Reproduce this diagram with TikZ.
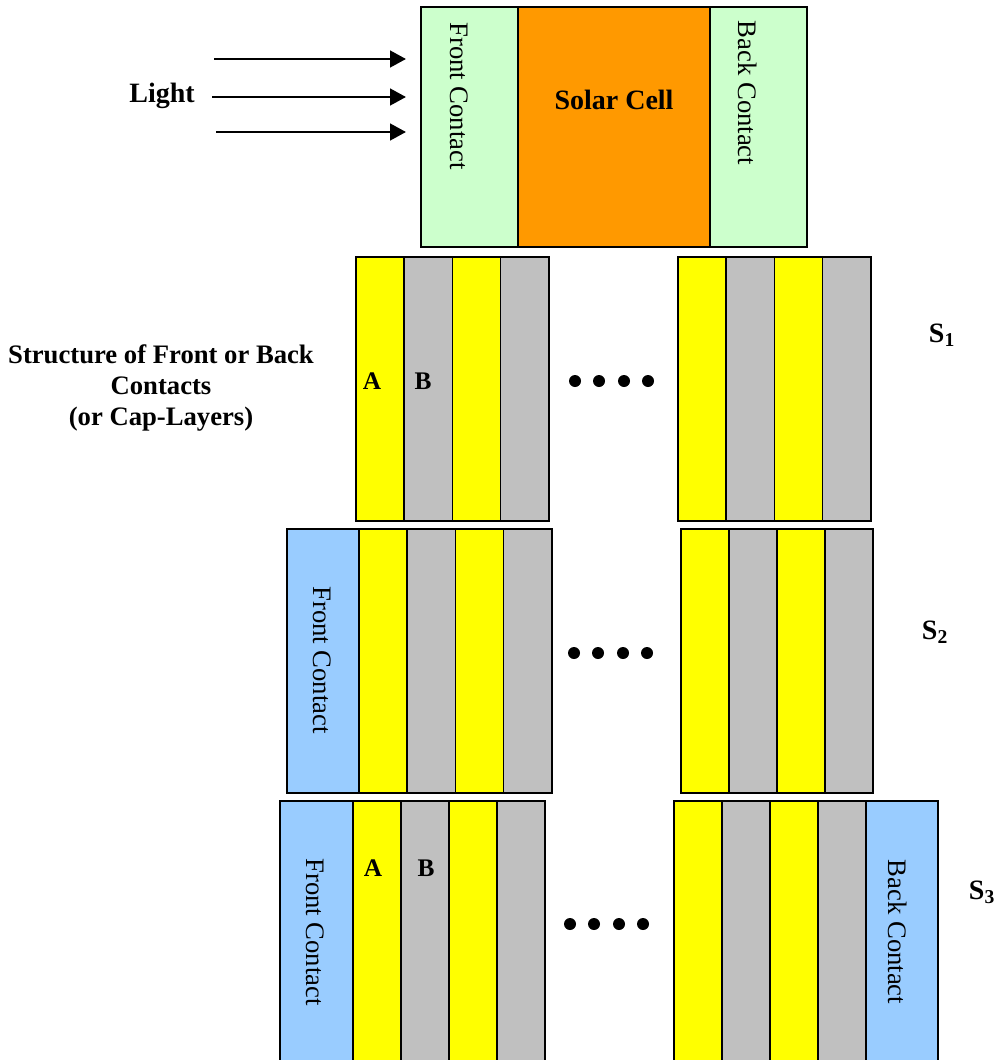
\documentclass[tikz,border=0pt]{standalone}
\usepackage{fontspec}
\setmainfont{Liberation Serif}
\usetikzlibrary{arrows.meta}
\definecolor{cgreen}{HTML}{CCFFCC}
\definecolor{corange}{HTML}{FF9900}
\definecolor{cyellow}{HTML}{FFFF00}
\definecolor{cgray}{HTML}{C0C0C0}
\definecolor{cblue}{HTML}{99CCFF}
\newcommand\lay[6]{\node[layerbox, fill=#6, minimum width={#4*0.75pt}, minimum height={#5*0.75pt}] (#1) at (#2,#3) {};}
\newcommand\strips[5]{%
  \foreach \i/\c in {0/cyellow,1/cgray,2/cyellow,3/cgray}{%
    \node[layerbox, fill=\c, minimum width={#3*0.75pt}, minimum height={#5*0.75pt}] (#1\i) at ({#2+\i*#3},#4) {};}}
\tikzset{
  layerbox/.style={draw=black, line width=1.3pt, inner sep=0pt, anchor=north west},
  vlabel/.style={rotate=-90, font=\fontsize{20}{24}\selectfont, inner sep=0pt},
  blabel/.style={font=\bfseries\fontsize{21}{25}\selectfont, inner sep=0pt},
  ablabel/.style={font=\bfseries\fontsize{19}{23}\selectfont, inner sep=0pt},
  dotmark/.style={circle, fill=black, inner sep=0pt, minimum size=9pt},
  lightarrow/.style={line width=1.9pt, -{Triangle[length=12pt,width=12.5pt]}, shorten >=10.5pt},
}
\begin{document}
\begin{tikzpicture}[x=0.75pt,y=-0.75pt]
\useasboundingbox (0,0) rectangle (999,1060);
\clip (0,0) rectangle (999,1060);
% top solar cell
\lay{sc}{517}{6}{192}{240}{corange}
\lay{fc}{420}{6}{97}{240}{cgreen}
\lay{bc}{709}{6}{97}{240}{cgreen}
\node[blabel] (sclab) at (614,100) {Solar Cell};
\node[vlabel] (fclab) at (459,96) {Front Contact};
\node[vlabel] (bclab) at (748,93) {Back Contact};
% light
\node[blabel] (light) at (162,96) {Light};
\coordinate (l1) at (214,59);
\coordinate (l2) at (212,97);
\coordinate (l3) at (216,132);
\draw[lightarrow] (l1) -- (l1 -| fc.west);
\draw[lightarrow] (l2) -- (l2 -| fc.west);
\draw[lightarrow] (l3) -- (l3 -| fc.west);
% S1
\strips{aL}{355}{48.25}{256}{264}
\strips{aR}{677}{48.25}{256}{264}
\node[ablabel] (a1) at (372,381) {A};
\node[ablabel] (b1) at (423,381) {B};
\foreach \k/\x in {1/575,2/599,3/624,4/648}{\node[dotmark] (da\k) at (\x,381) {};}
\node[blabel] (s1) at (942,335) {S\textsubscript{1}};
\node[font=\bfseries\fontsize{20}{23.5}\selectfont, align=center, inner sep=0pt] (struct) at (161,388)
  {Structure of Front or Back\\Contacts\\(or Cap-Layers)};
% S2
\lay{fc2}{286}{528}{72}{264}{cblue}
\strips{bL}{358}{48.25}{528}{264}
\strips{bR}{680}{48}{528}{264}
\node[vlabel] (fc2lab) at (322,660) {Front Contact};
\foreach \k/\x in {1/574,2/598,3/623,4/647}{\node[dotmark] (db\k) at (\x,653) {};}
\node[blabel] (s2) at (935,632) {S\textsubscript{2}};
% S3
\lay{fc3}{279}{800}{73}{280}{cblue}
\strips{cL}{352}{48}{800}{280}
\strips{cR}{673}{48}{800}{280}
\lay{bc3}{865}{800}{72}{280}{cblue}
\node[vlabel] (fc3lab) at (315,932) {Front Contact};
\node[vlabel] (bc3lab) at (898,932) {Back Contact};
\node[ablabel] (a3) at (373,868) {A};
\node[ablabel] (b3) at (426,868) {B};
\foreach \k/\x in {1/570,2/594,3/619,4/643}{\node[dotmark] (dc\k) at (\x,924) {};}
\node[blabel] (s3) at (982,892) {S\textsubscript{3}};
\end{tikzpicture}
\end{document}
